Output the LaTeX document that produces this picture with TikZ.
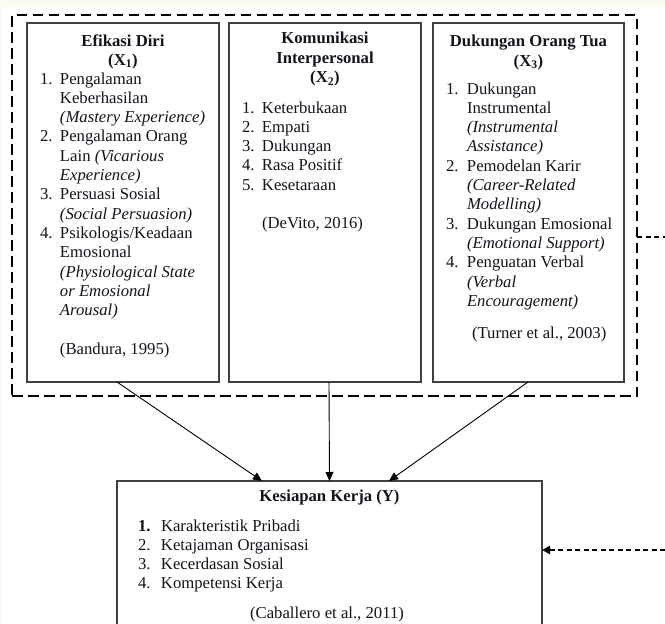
\documentclass[tikz,border=0pt]{standalone}
\usepackage{fontspec}
\setmainfont{Liberation Serif}
\usetikzlibrary{arrows.meta,calc}
\definecolor{cream}{RGB}{250,250,240}
\definecolor{boxgray}{RGB}{64,64,64}
\definecolor{ink}{RGB}{20,20,30}
\newlength\numw
\newcommand\nm[1]{\makebox[\numw][l]{#1}}
\newcommand\ind{\hspace*{\numw}}
\begin{document}
\begin{tikzpicture}[x=1pt,y=-1pt,
  boxnode/.style={draw=boxgray,line width=1.2pt,inner sep=0pt,outer sep=0pt},
  grpbox/.style={draw=black,line width=2.8pt,dash pattern=on 10.5pt off 5.5pt,inner sep=0pt,outer sep=0pt},
  txt/.style={inner sep=0pt,outer sep=0pt,text=ink,font=\fontsize{16.7}{19.3}\selectfont},
  ttl/.style={inner sep=0pt,outer sep=0pt,text=ink,font=\fontsize{16.7}{19.3}\selectfont\bfseries},
  arr/.style={line width=0.9pt,-{Triangle[length=9pt,width=8pt]}},
  sidedash/.style={line width=1.8pt,dash pattern=on 5pt off 3.5pt}]
\useasboundingbox (0,0) rectangle (665,624);
\fill[cream] (0,0) rectangle (665,624);
\fill[white] (3,7) rectangle (665,624);

% boxes
\node[boxnode,minimum width=192pt,minimum height=359pt] (b1) at (123,202.5) {};
\node[boxnode,minimum width=192pt,minimum height=359pt] (b2) at (325,202.5) {};
\node[boxnode,minimum width=191pt,minimum height=359pt] (b3) at (528.5,202.5) {};
\node[boxnode,minimum width=425pt,minimum height=160pt] (by) at (329.5,561) {};
\node[grpbox,minimum width=625pt,minimum height=381pt] (grp) at (324.5,205.5) {};

% box 1
\node[ttl,anchor=base] (t1a) at (123,46.5) {Efikasi Diri};
\node[ttl,anchor=base] (t1b) at (123,65) {(X\textsubscript{1})};
\node[txt,anchor=base west] (l1) at (40,84) {\parbox[t]{178pt}{\setlength\numw{20pt}\raggedright
\nm{1.}Pengalaman\\
\ind Keberhasilan\\
\ind\textit{(Mastery Experience)}\\
\nm{2.}Pengalaman Orang\\
\ind Lain \textit{(Vicarious}\\
\ind\textit{Experience)}\\
\nm{3.}Persuasi Sosial\\
\ind\textit{(Social Persuasion)}\\
\nm{4.}Psikologis/Keadaan\\
\ind Emosional\\
\ind\textit{(Physiological State}\\
\ind\textit{or Emosional}\\
\ind\textit{Arousal)}\\[19.3pt]
\ind (Bandura, 1995)}};

% box 2
\node[ttl,anchor=base] (t2a) at (325,43) {Komunikasi};
\node[ttl,anchor=base] (t2b) at (325,63) {Interpersonal};
\node[ttl,anchor=base] (t2c) at (325,82.5) {(X\textsubscript{2})};
\node[txt,anchor=base west] (l2) at (242,113) {\parbox[t]{175pt}{\setlength\numw{20pt}\raggedright
\nm{1.}Keterbukaan\\
\nm{2.}Empati\\
\nm{3.}Dukungan\\
\nm{4.}Rasa Positif\\
\nm{5.}Kesetaraan\\[19.3pt]
\ind (DeVito, 2016)}};

% box 3
\node[ttl,anchor=base] (t3a) at (528.5,46.5) {Dukungan Orang Tua};
\node[ttl,anchor=base] (t3b) at (528.5,66) {(X\textsubscript{3})};
\node[txt,anchor=base west] (l3) at (446,94) {\parbox[t]{175pt}{\setlength\numw{21pt}\raggedright
\nm{1.}Dukungan\\
\ind Instrumental\\
\ind\textit{(Instrumental}\\
\ind\textit{Assistance)}\\
\nm{2.}Pemodelan Karir\\
\ind\textit{(Career-Related}\\
\ind\textit{Modelling)}\\
\nm{3.}Dukungan Emosional\\
\ind\textit{(Emotional Support)}\\
\nm{4.}Penguatan Verbal\\
\ind\textit{(Verbal}\\
\ind\textit{Encouragement)}}};
\node[txt,anchor=base west] (c3) at (472,338) {(Turner et al., 2003)};

% bottom box
\node[ttl,anchor=base] (ty) at (329.5,501) {Kesiapan Kerja (Y)};
\node[txt,anchor=base west] (ly) at (138,531) {\parbox[t]{300pt}{\setlength\numw{23pt}\raggedright
\nm{\textbf{1.}}Karakteristik Pribadi\\
\nm{2.}Ketajaman Organisasi\\
\nm{3.}Kecerdasan Sosial\\
\nm{4.}Kompetensi Kerja}};
\node[txt,anchor=base] (cy) at (327,618) {(Caballero et al., 2011)};

% connectors
\draw[arr] ([xshift=-6pt]b1.south) -- ([xshift=-67.5pt]by.north);
\draw[arr] ([xshift=4pt]b2.south) -- (by.north);
\draw[arr] ([xshift=-0.5pt]b3.south) -- ([xshift=59.5pt]by.north);

\coordinate (s1) at (665,237);
\coordinate (s2) at (665,550);
\draw[sidedash] (s1 -| grp.east) -- (s1);
\draw[sidedash,-{Triangle[length=8pt,width=8pt]}] (s2) -- (s2 -| by.east);
\end{tikzpicture}
\end{document}
